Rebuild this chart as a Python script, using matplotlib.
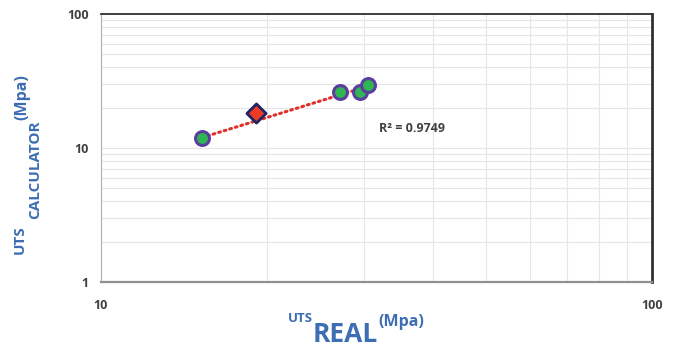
import numpy as np
import matplotlib.pyplot as plt
from matplotlib.ticker import LogLocator, NullFormatter, FixedLocator

# measured vs calculated UTS (MPa)
uts_real = [15.25, 27.2, 29.5, 30.5]
uts_calc = [11.9, 26.2, 26.0, 29.5]
# highlighted sample
hl_real = [19.1]
hl_calc = [18.3]
r2_text = "R² = 0.9749"

label_blue = "#3d6db3"
tick_grey = "#404040"
font = "Open Sans"

fig = plt.figure(figsize=(6.73, 3.62), dpi=100)
ax = fig.add_axes([101 / 673, 80 / 362, 551 / 673, 268 / 362])

ax.set_xscale("log")
ax.set_yscale("log")
ax.set_xlim(10, 100)
ax.set_ylim(1, 100)

# power trend line of the main series (straight in log-log)
sx = np.array(uts_real)
sy = np.array(uts_calc)
b, a = np.polyfit(np.log10(sx), np.log10(sy), 1)
tx = np.array([sx.min(), sx.max()])
ty = 10 ** a * tx ** b
ax.plot(tx, ty, color="#e0302a", lw=2.2, ls=(0, (0.6, 1.3)),
        dash_capstyle="round", zorder=3)

ax.scatter(uts_real, uts_calc, s=100, c="#2fb552", edgecolors="#5b3f9e",
           linewidths=2.2, zorder=4)
ax.scatter(hl_real, hl_calc, s=95, marker="D", c="#ee3b24",
           edgecolors="#1f2466", linewidths=2.0, zorder=5)

ax.text(32, 14.1, r2_text, fontsize=9, fontweight="bold", va="center",
        color=tick_grey, family=font)

# grid on every minor decade step
ax.xaxis.set_minor_locator(LogLocator(base=10, subs=np.arange(2, 10)))
ax.yaxis.set_minor_locator(LogLocator(base=10, subs=np.arange(2, 10)))
ax.xaxis.set_minor_formatter(NullFormatter())
ax.yaxis.set_minor_formatter(NullFormatter())
ax.grid(True, which="both", color="#e6e6e6", lw=0.8)
ax.set_axisbelow(True)

ax.xaxis.set_major_locator(FixedLocator([10, 100]))
ax.yaxis.set_major_locator(FixedLocator([1, 10, 100]))
ax.set_xticklabels(["10", "100"])
ax.set_yticklabels(["1", "10", "100"])
ax.tick_params(which="both", length=0)
ax.tick_params(axis="x", pad=12)
ax.tick_params(axis="y", pad=9)
for lab in ax.get_xticklabels() + ax.get_yticklabels():
    lab.set_fontweight("bold")
    lab.set_fontsize(9)
    lab.set_color(tick_grey)
    lab.set_family(font)

ax.spines["top"].set_color("#303030")
ax.spines["right"].set_color("#303030")
ax.spines["top"].set_linewidth(1.3)
ax.spines["right"].set_linewidth(2.0)
ax.spines["left"].set_color("#b0b0b0")
ax.spines["bottom"].set_color("#909090")
ax.spines["bottom"].set_linewidth(1.6)


def fx(px):
    return px / 673


def fy(py):
    return 1 - py / 362


def title_part(px, py, s, size, rot=0):
    fig.text(fx(px), fy(py), s, fontsize=size, fontweight="bold",
             color=label_blue, family=font, rotation=rot,
             rotation_mode="anchor", ha="left", va="baseline")


# x axis title: UTS REAL (Mpa)
title_part(288, 322, "UTS", 9.5)
title_part(313, 342, "REAL", 19)
title_part(378, 326, "(Mpa)", 11.5)

# y axis title: UTS CALCULATOR (Mpa), rotated
title_part(24, 254, "UTS", 11, 90)
title_part(39, 219, "CALCULATOR", 11, 90)
title_part(26, 120, "(Mpa)", 11.5, 90)

fig.savefig("out.png", dpi=100)
